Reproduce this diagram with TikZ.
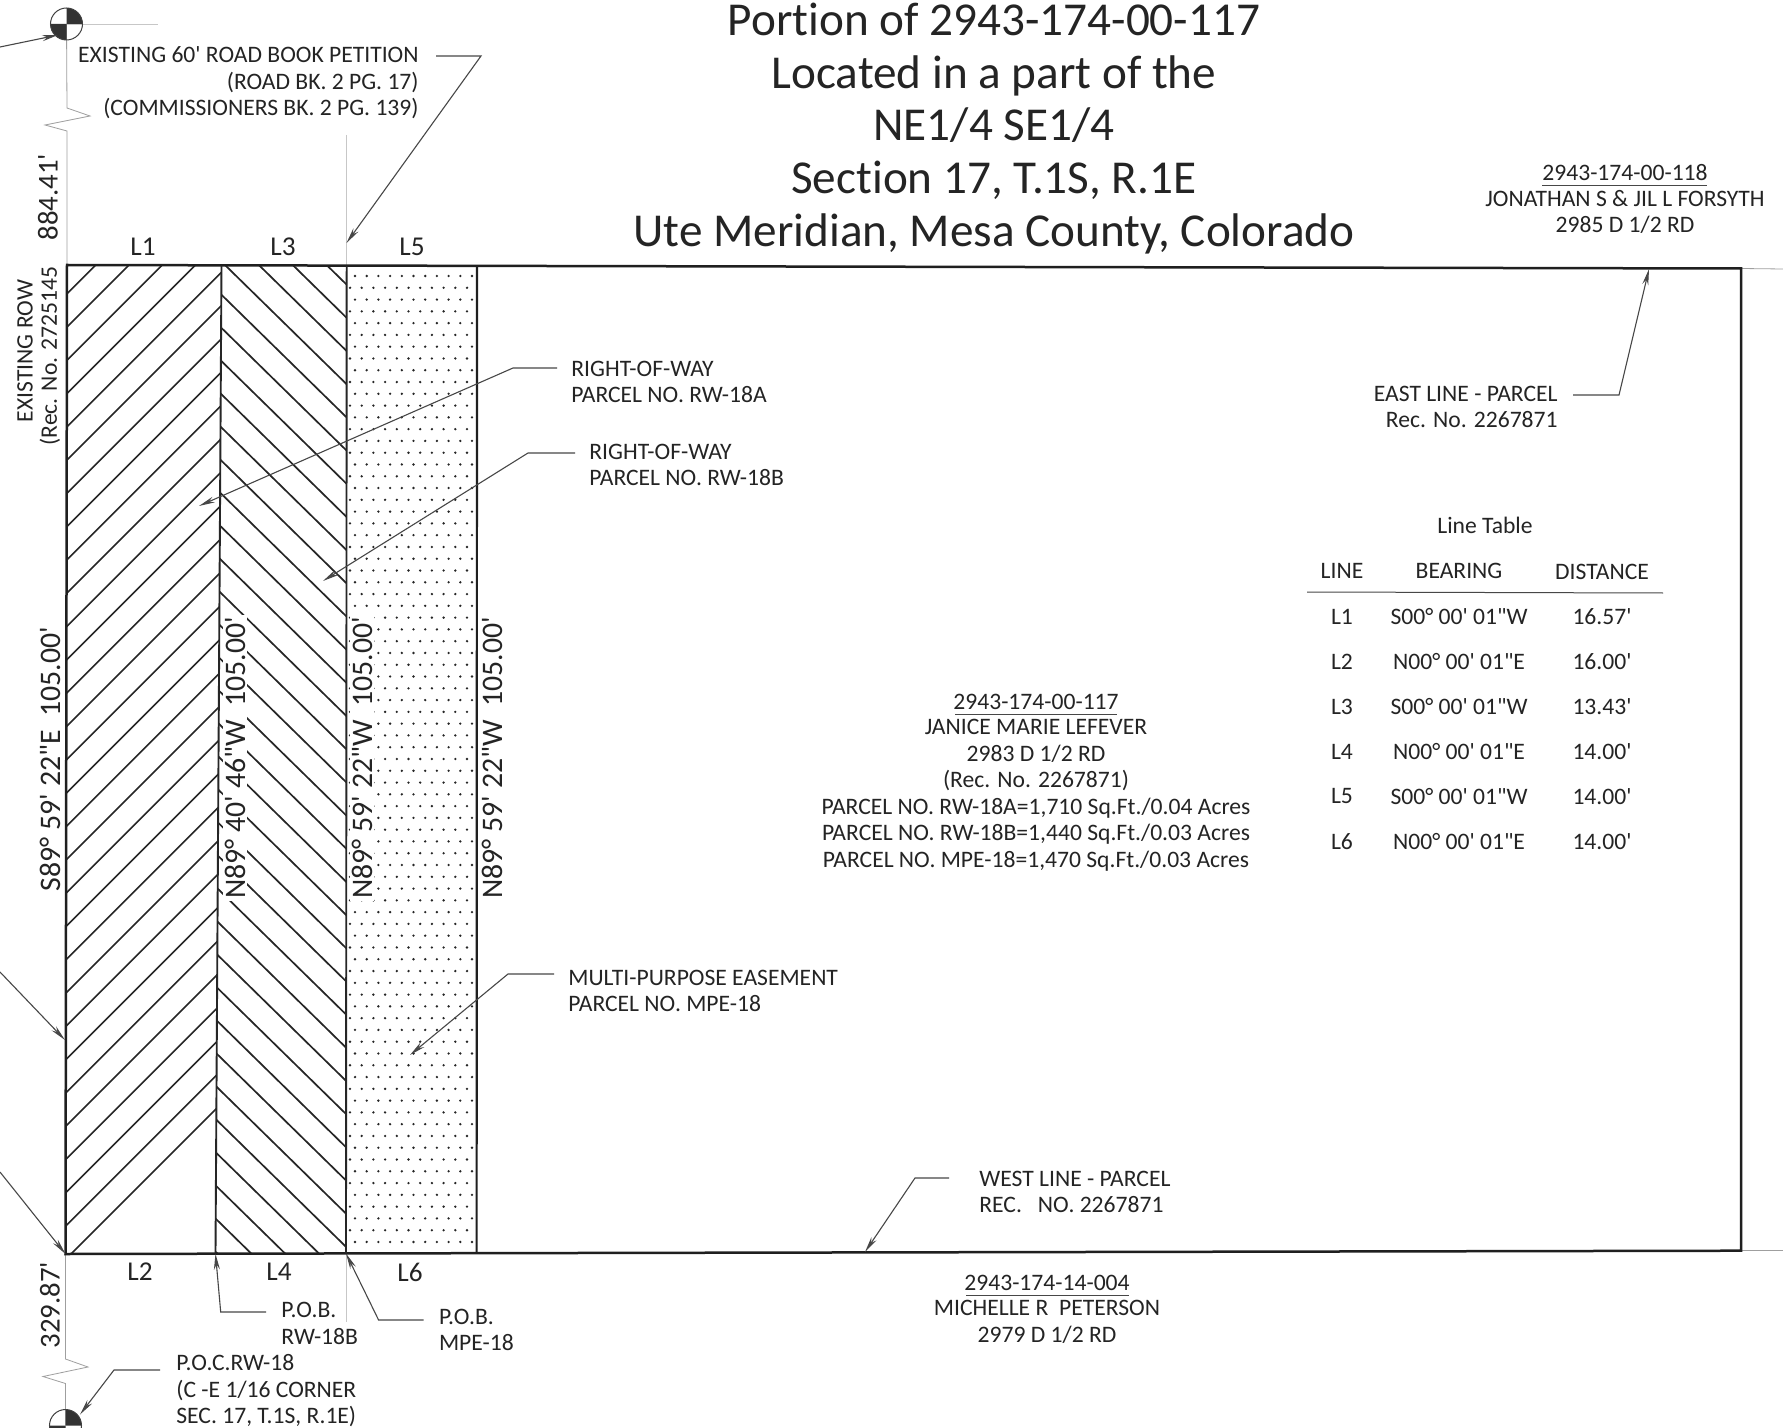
\documentclass[tikz,border=0pt]{standalone}
\usepackage{fontspec}
\usetikzlibrary{arrows.meta}
\newfontfamily\cf[Ligatures=NoCommon]{Carlito}
\definecolor{ink}{gray}{0.14}
\definecolor{leadc}{gray}{0.28}
\definecolor{faint}{gray}{0.78}
\newcommand{\lblfont}{\cf\fontsize{11.8}{13.25}\selectfont}
\newcommand{\brgfont}{\cf\fontsize{14.9}{16}\selectfont}
\newcommand{\ttlfont}{\cf\fontsize{23.6}{26.35}\selectfont}
\newcommand{\tagfont}{\fontsize{13.6}{15}\selectfont}
\tikzset{
  txt/.style={font=\lblfont,text=ink,inner sep=0pt,align=center},
  txtl/.style={txt,align=left,anchor=west},
  txtr/.style={txt,align=right,anchor=east},
  brg/.style={font=\brgfont,text=ink,inner sep=0pt},
  brgm/.style={brg,fill=white,inner sep=1pt},
  ttl/.style={font=\ttlfont,text=ink,inner sep=0pt,align=center},
  heavy/.style={draw=black!88,line width=1.25pt},
  hatchline/.style={draw=black!85,line width=0.85pt},
  leader/.style={draw=leadc,line width=0.55pt,-{Stealth[length=8pt,width=3pt]}},
  plainline/.style={draw=leadc,line width=0.5pt},
  ghost/.style={draw=faint,line width=0.4pt},
}
\begin{document}
\begin{tikzpicture}[x=0.5pt,y=-0.5pt]
\path[use as bounding box,clip] (0,0) rectangle (1783,1428);
\fill[white] (0,0) rectangle (1783,1428);
% parcel corners
\coordinate (tl) at (67,265);
\coordinate (tm1) at (221.5,265.3);
\coordinate (tm2) at (346.7,265.6);
\coordinate (tm3) at (477,266);
\coordinate (tr) at (1741,268.5);
\coordinate (bl) at (65.5,1254);
\coordinate (bm1) at (215.5,1253.7);
\coordinate (bm2) at (346,1253.4);
\coordinate (bm3) at (476.6,1253.2);
\coordinate (br) at (1741,1250.7);
% hatching
\begin{scope}
\clip (tl) -- (tm1) -- (bm1) -- (bl) -- cycle;
\foreach \k in {0,...,30}{
  \pgfmathsetmacro{\c}{1325-33.25*\k}
  \draw[hatchline] (\c-1300,1300) -- (\c-200,200);
}
\end{scope}
\begin{scope}
\clip (tm1) -- (tm2) -- (bm2) -- (bm1) -- cycle;
\foreach \k in {0,...,34}{
  \pgfmathsetmacro{\yy}{284+33.2*\k}
  \draw[hatchline] (346+150,\yy+147) -- (346-150,\yy-147);
}
\end{scope}
% dots
\foreach \i in {0,...,41}{\foreach \j in {0,...,10}{
  \fill[black!85] ({355+11.7*\j},{276+23.56*\i}) circle[radius=0.65pt];}}
\foreach \i in {0,...,40}{\foreach \j in {0,...,10}{
  \fill[black!85] ({350+11.7*\j},{287.8+23.56*\i}) circle[radius=0.65pt];}}
% bearings on the lines
\node[brg,rotate=90] (bS) at (50,759) {S89° 59' 22"E\ \ 105.00'};
\node[brgm,rotate=90] (bN1) at (235,758) {N89° 40' 46"W\ \ 105.00'};
\node[brgm,rotate=90] (bN2) at (362,758) {N89° 59' 22"W\ \ 105.00'};
\node[brg,rotate=90] (bN3) at (492,758) {N89° 59' 22"W\ \ 105.00'};
% ghost extensions
\coordinate (m1) at (66.5,24);
\coordinate (m2) at (65.5,1425.5);
\coordinate (g1) at (158,24);
\coordinate (z1) at (67,108); \coordinate (z2) at (90,116);
\coordinate (z3) at (45,125); \coordinate (z4) at (67,131);
\coordinate (z5) at (65.5,1359); \coordinate (z6) at (88,1367);
\coordinate (z7) at (43,1376.5); \coordinate (z8) at (65.5,1383.5);
\coordinate (e1) at (1783,269); \coordinate (e2) at (1783,1250.7);
\coordinate (v1) at (346.7,135); \coordinate (v2) at (346,1322);
\draw[ghost] (m1) -- (g1);
\draw[ghost,draw=gray!75] (m1) -- (z1) -- (z2) -- (z3) -- (z4) -- (tl);
\draw[ghost,draw=gray!75] (bl) -- (z5) -- (z6) -- (z7) -- (z8) -- (m2);
\draw[ghost,draw=gray!75] (tr) -- (e1);
\draw[ghost,draw=gray!75] (br) -- (e2);
\draw[ghost] (v1) -- (tm2);
\draw[ghost] (bm2) -- (v2);
% parcel outline
\draw[heavy,line join=miter] (tl) -- (tr) -- (br) -- (bl) -- cycle;
\draw[hatchline,line width=0.95pt] (tm1) -- (bm1);
\draw[hatchline,line width=0.95pt] (tm2) -- (bm2);
\draw[heavy,line width=1.1pt] (tm3) -- (bm3);
% monuments
\foreach \m in {m1,m2}{
  \fill[black!80] (\m) -- ++(8pt,0pt) arc[start angle=0,end angle=90,radius=8pt] -- cycle;
  \fill[black!80] (\m) -- ++(-8pt,0pt) arc[start angle=180,end angle=270,radius=8pt] -- cycle;
  \draw[black!75,line width=0.5pt] (\m) circle[radius=8pt];
}
% title
\node[ttl] (title) at (994,128.5) {Portion of 2943-174-00-117\\Located in a part of the\\NE1/4 SE1/4\\Section 17, T.1S, R.1E\\Ute Meridian, Mesa County, Colorado};
% side labels
\node[txt,rotate=90] (dimA) at (48,197) {\fontsize{14.4}{16}\selectfont 884.41'};
\node[txt,rotate=90] (dimB) at (50,1305) {\fontsize{14.4}{16}\selectfont 329.87'};
\node[txt,rotate=90] (exrow) at (25,351) {EXISTING ROW};
\node[txt,rotate=90] (exrec) at (50,356) {(Rec. No. 2725145};
% line tags
\node[txt] (l1) at (143,247) {\tagfont L1};
\node[txt] (l3) at (283,247) {\tagfont L3};
\node[txt] (l5) at (412,247) {\tagfont L5};
\node[txt] (l2) at (140,1272) {\tagfont L2};
\node[txt] (l4) at (279,1272) {\tagfont L4};
\node[txt] (l6) at (410,1272) {\tagfont L6};
% labels
\node[txtr] (road) at (419,83) {EXISTING 60' ROAD BOOK PETITION\\(ROAD BK. 2 PG. 17)\\(COMMISSIONERS BK. 2 PG. 139)};
\node[txtl] (rwa) at (571,382) {RIGHT-OF-WAY\\PARCEL NO. RW-18A};
\node[txtl] (rwb) at (589,465) {RIGHT-OF-WAY\\PARCEL NO. RW-18B};
\node[txtl] (mpe) at (568,991) {MULTI-PURPOSE EASEMENT\\PARCEL NO. MPE-18};
\node[txtr] (east) at (1558,407) {EAST LINE - PARCEL\\Rec. No. 2267871};
\node[txtl] (west) at (979,1192) {WEST LINE - PARCEL\\REC.\ \ \ NO. 2267871};
\node[txtl] (pobb) at (281,1323.5) {P.O.B.\\RW-18B};
\node[txtl] (pobm) at (438.6,1330) {P.O.B.\\MPE-18};
\node[txtl] (poc) at (176,1391) {P.O.C.RW-18\\(C -E 1/16 CORNER\\SEC. 17, T.1S, R.1E)};
% parcel captions
\node[txt] (c1a) at (1625,173) {2943-174-00-118};
\node[txt] (c1b) at (1625,212) {JONATHAN S \& JIL L FORSYTH\\2985 D 1/2 RD};
\node[txt] (c2a) at (1036,702) {2943-174-00-117};
\node[txt] (c2b) at (1036,795) {JANICE MARIE LEFEVER\\2983 D 1/2 RD\\(Rec. No. 2267871)\\PARCEL NO. RW-18A=1,710 Sq.Ft./0.04 Acres\\PARCEL NO. RW-18B=1,440 Sq.Ft./0.03 Acres\\PARCEL NO. MPE-18=1,470 Sq.Ft./0.03 Acres};
\node[txt] (c3a) at (1047,1283) {2943-174-14-004};
\node[txt] (c3b) at (1047,1322) {MICHELLE R\ \ PETERSON\\2979 D 1/2 RD};
\coordinate (u1a) at (1542,186); \coordinate (u1b) at (1707,186);
\coordinate (u2a) at (955,714); \coordinate (u2b) at (1117,714);
\coordinate (u3a) at (966,1295); \coordinate (u3b) at (1129,1295);
\draw[plainline] (u1a) -- (u1b);
\draw[plainline] (u2a) -- (u2b);
\draw[plainline] (u3a) -- (u3b);
% table
\node[txt] (tt) at (1485,525) {Line Table};
\node[txt] (h1) at (1342,571) {LINE};
\node[txt] (h2) at (1459,571) {BEARING};
\node[txt] (h3) at (1602,572) {DISTANCE};
\coordinate (ra) at (1307,592); \coordinate (rb) at (1663,593);
\draw[plainline] (ra) -- (rb);
\foreach \n/\yy/\l/\b/\d in {1/617/L1/S00° 00' 01"W/16.57',2/661.5/L2/N00° 00' 01"E/16.00',3/706.5/L3/S00° 00' 01"W/13.43',4/751.5/L4/N00° 00' 01"E/14.00',5/796.5/L5/S00° 00' 01"W/14.00',6/841.5/L6/N00° 00' 01"E/14.00'}{
  \node[txt] (r\n a) at (1342,\yy) {\l};
  \node[txt] (r\n b) at (1459,\yy) {\b};
  \node[txt] (r\n c) at (1602,\yy) {\d};
}
% leaders
\coordinate (bRoad) at (481,56); \coordinate (tRoad) at (346.5,243);
\coordinate (bA) at (513,368); \coordinate (tA) at (199,506);
\coordinate (bB) at (528,453); \coordinate (tB) at (323,581);
\coordinate (bM) at (508,974); \coordinate (tM) at (410,1055);
\coordinate (bE) at (1619,395); \coordinate (tE) at (1649,269);
\coordinate (bW) at (915,1178); \coordinate (tW) at (865,1252);
\coordinate (bP) at (220.7,1312); \coordinate (bQ) at (378.6,1320);
\coordinate (bC) at (114,1370); \coordinate (tC) at (80,1414.5);
\coordinate (s1) at (0,47); \coordinate (s2) at (0,972); \coordinate (s3) at (0,1172);
\coordinate (tm) at (58,35); \coordinate (tL) at (65,1040);
\draw[leader,shorten <=8.5pt] (road.east |- bRoad) -- (bRoad) -- (tRoad);
\draw[leader,shorten <=7pt] (rwa.west |- bA) -- (bA) -- (tA);
\draw[leader,shorten <=7pt] (rwb.west |- bB) -- (bB) -- (tB);
\draw[leader,shorten <=7pt] (mpe.west |- bM) -- (bM) -- (tM);
\draw[leader,shorten <=7.5pt] (east.east |- bE) -- (bE) -- (tE);
\draw[leader,shorten <=15pt] (west.west |- bW) -- (bW) -- (tW);
\draw[leader,shorten <=7.5pt] (pobb.west |- bP) -- (bP) -- (bm1);
\draw[leader,shorten <=7.5pt] (pobm.west |- bQ) -- (bQ) -- (bm2);
\draw[leader,shorten <=8pt] (poc.west |- bC) -- (bC) -- (tC);
\draw[leader] (s1) -- (tm);
\draw[leader] (s2) -- (tL);
\draw[leader] (s3) -- (bl);
\end{tikzpicture}
\end{document}
